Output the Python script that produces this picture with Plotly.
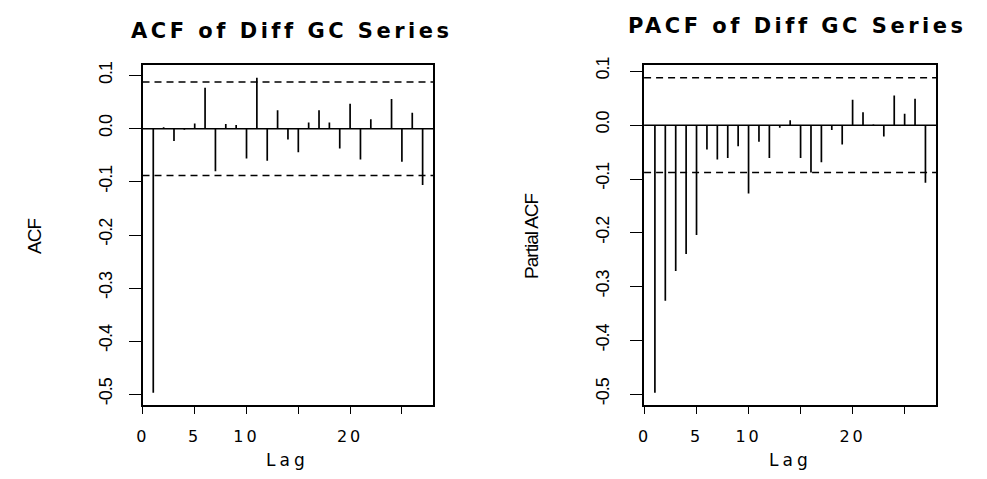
import plotly.graph_objects as go

# ---------------- data ----------------
lags = list(range(1, 28))
acf_vals = [-0.497, 0.003, -0.023, -0.002, 0.010, 0.077, -0.080, 0.009, 0.007, -0.056,
            0.096, -0.060, 0.035, -0.020, -0.044, 0.012, 0.035, 0.012, -0.037, 0.047,
            -0.058, 0.018, 0.001, 0.056, -0.062, 0.030, -0.106]
pacf_vals = [-0.497, -0.326, -0.271, -0.239, -0.204, -0.045, -0.064, -0.061, -0.039, -0.127,
             -0.031, -0.061, -0.005, 0.009, -0.061, -0.088, -0.069, -0.009, -0.036, 0.047,
             0.024, 0.001, -0.021, 0.055, 0.021, 0.049, -0.107]
ci_bound = 0.088
x_tick_vals = [0, 5, 10, 15, 20, 25]
x_tick_text = ["0", "5", "10", "", "20", ""]
y_tick_vals = [-0.5, -0.4, -0.3, -0.2, -0.1, 0.0, 0.1]
y_tick_text = ["-0.5", "-0.4", "-0.3", "-0.2", "-0.1", "0.0", "0.1"]
titles = ["ACF of Diff GC Series", "PACF of Diff GC Series"]
y_titles = ["ACF", "Partial ACF"]
x_title = "Lag"

# page has an 8px body margin: figure sized to fit inside the 987x479 window
OFF = 8
W, H = 987 - 2 * OFF, 479 - 2 * OFF


def px(x):
    return (x - OFF) / W


def py(y):
    return 1 - (y - OFF) / H


def spaced(t, ls):
    return '<span style="letter-spacing:%s">%s</span>' % (ls, t) if t else t


def stems(xs, ys):
    X, Y = [], []
    for a, b in zip(xs, ys):
        X += [a, a, None]
        Y += [0, b, None]
    return X, Y


def r_range(lo, hi):
    pad = 0.04 * (hi - lo)
    return [lo - pad, hi + pad]


fig = go.Figure()

panels = [
    dict(vals=acf_vals, xd=(137.3, 430.0), xa="x", ya="y", tcx=288, tcy=23,
         ytx=28, standoff=10),
    dict(vals=pacf_vals, xd=(642.0, 936.0), xa="x2", ya="y2", tcx=796, tcy=18,
         ytx=528, standoff=14),
]

y_top, y_bot = 58.0, 404.3
xr = r_range(min(lags), max(lags))
line_w = 1.6
sans = "Liberation Sans, Arial, sans-serif"

for i, p in enumerate(panels):
    X, Y = stems(lags, p["vals"])
    fig.add_trace(go.Scatter(x=X, y=Y, mode="lines", xaxis=p["xa"], yaxis=p["ya"],
                             line=dict(color="black", width=1.7), showlegend=False,
                             hoverinfo="skip"))
    yr = r_range(min(min(p["vals"]), -ci_bound), max(max(p["vals"]), ci_bound))
    suffix = "" if i == 0 else "2"
    fig.update_layout(**{
        "xaxis" + suffix: dict(domain=[px(p["xd"][0]), px(p["xd"][1])], range=xr,
                               anchor="y" + suffix, showgrid=False, zeroline=False,
                               showline=True, mirror=True, linecolor="black", linewidth=line_w,
                               ticks="outside", ticklen=7, tickwidth=1.3, tickcolor="black",
                               tickvals=x_tick_vals,
                               ticktext=[spaced(t, "3px") for t in x_tick_text],
                               ticklabelstandoff=9,
                               tickfont=dict(family="DejaVu Sans", size=16, color="black")),
        "yaxis" + suffix: dict(domain=[py(y_bot), py(y_top)], range=yr,
                               anchor="x" + suffix, showgrid=False, zeroline=False,
                               showline=True, mirror=True, linecolor="black", linewidth=line_w,
                               ticks="outside", ticklen=12, tickwidth=1.3, tickcolor="black",
                               tickvals=y_tick_vals,
                               ticktext=[spaced(t, "-1px") for t in y_tick_text],
                               tickangle=-90,
                               ticklabelstandoff=p["standoff"],
                               tickfont=dict(family=sans, size=18, color="black")),
    })
    # zero line and confidence bounds
    fig.add_shape(type="line", xref=p["xa"] + " domain", yref=p["ya"], x0=0, x1=1, y0=0, y1=0,
                  line=dict(color="black", width=1.5))
    for s in (1, -1):
        fig.add_shape(type="line", xref=p["xa"] + " domain", yref=p["ya"], x0=0, x1=1,
                      y0=s * ci_bound, y1=s * ci_bound,
                      line=dict(color="black", width=1.5, dash="7px,5px"))
    # title
    fig.add_annotation(text="<b>" + spaced(titles[i], "3.5px") + "</b>", xref="paper",
                       yref="paper", x=px(p["tcx"]), y=py(p["tcy"]), xanchor="center",
                       yanchor="middle", showarrow=False,
                       font=dict(family="DejaVu Sans", size=21, color="black"))
    # y title
    fig.add_annotation(text=spaced(y_titles[i], "-1px"), xref="paper", yref="paper",
                       x=px(p["ytx"]), y=py(232), xanchor="center", yanchor="middle",
                       textangle=-90, showarrow=False,
                       font=dict(family=sans, size=19, color="black"))
    # x title
    fig.add_annotation(text=spaced(x_title, "4px"), xref="paper", yref="paper",
                       x=px((p["xd"][0] + p["xd"][1]) / 2), y=0,
                       xanchor="center", yanchor="bottom", showarrow=False, borderpad=0,
                       font=dict(family="DejaVu Sans", size=17, color="black"))

fig.update_layout(width=W, height=H, margin=dict(l=0, r=0, t=0, b=0),
                  paper_bgcolor="white", plot_bgcolor="white")

fig.write_html("out.html")
